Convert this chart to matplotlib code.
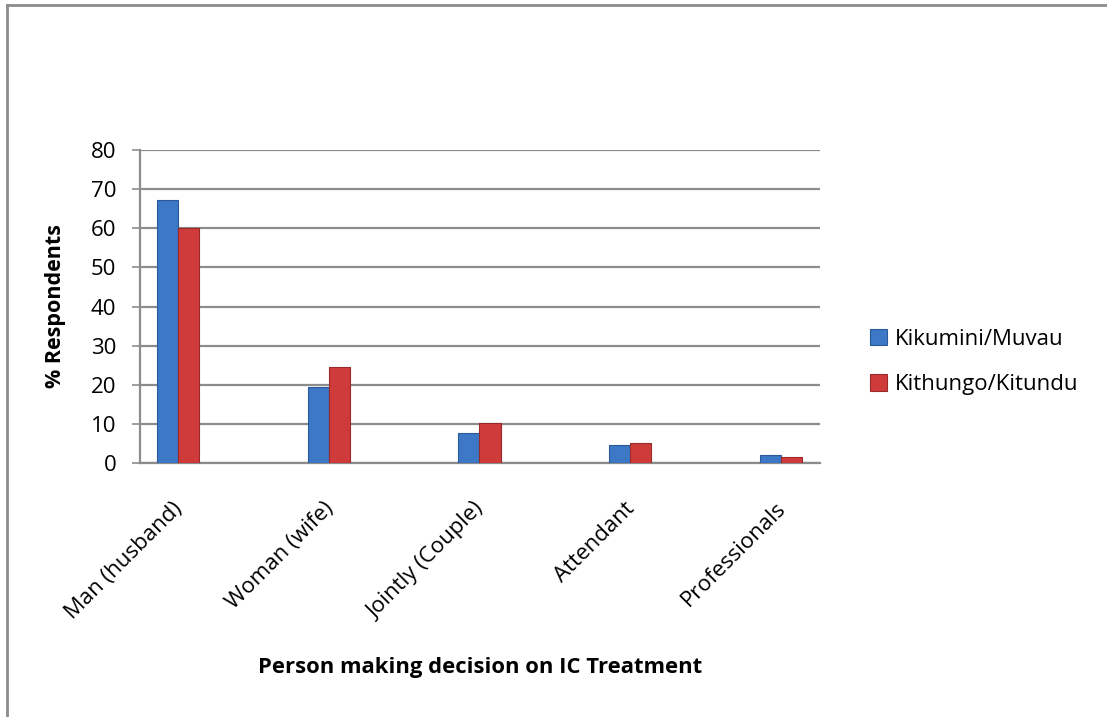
import matplotlib
matplotlib.use("Agg")
import matplotlib.pyplot as plt
from matplotlib.lines import Line2D
import matplotlib.transforms as mtransforms
import numpy as np

categories = ["Man (husband)", "Woman (wife)", "Jointly (Couple)", "Attendant", "Professionals"]
series_names = ["Kikumini/Muvau", "Kithungo/Kitundu"]
kikumini = [67.2, 19.4, 7.7, 4.7, 2.2]
kithungo = [60.2, 24.5, 10.3, 5.3, 1.6]
yticks = [0, 10, 20, 30, 40, 50, 60, 70, 80]

plt.rcParams['font.family'] = ['Open Sans', 'DejaVu Sans']

W, H = 1107, 717
fig = plt.figure(figsize=(W / 100, H / 100), dpi=100)
ax = fig.add_axes([140 / W, 1 - 463.3 / H, (820 - 140) / W, (463.3 - 150) / H])

x = np.arange(len(categories))
bw = 0.14
blue = '#3C78C6'
red = '#CF3B3B'
ax.bar(x - bw / 2, kikumini, bw, color=blue, edgecolor='#2A5A9A', linewidth=0.8,
       label=series_names[0], zorder=3)
ax.bar(x + bw / 2, kithungo, bw, color=red, edgecolor='#9A2A2A', linewidth=0.8,
       label=series_names[1], zorder=3)

ax.set_xlim(-0.252, 4.259)
ax.set_ylim(0, 80)
ax.set_yticks(yticks)
ax.set_yticklabels([str(v) for v in yticks], fontsize=16)
ax.yaxis.grid(True, color='#8C8C8C', linewidth=1.6, zorder=0)
ax.set_axisbelow(True)
ax.tick_params(axis='y', length=6, width=1.2, color='#8C8C8C', pad=11)
ax.tick_params(axis='x', length=0, pad=25)
ax.set_xticks(x)
ax.set_xticklabels(categories, rotation=45, ha='right', va='top',
                   rotation_mode='anchor', fontsize=16)
offset = mtransforms.ScaledTranslation(-6 / 100, 0, fig.dpi_scale_trans)
for lbl in ax.get_xticklabels():
    lbl.set_transform(lbl.get_transform() + offset)
for s in ['top', 'right']:
    ax.spines[s].set_visible(False)
ax.spines['left'].set_color('#8C8C8C')
ax.spines['left'].set_linewidth(1.6)
ax.spines['bottom'].set_color('#8C8C8C')
ax.spines['bottom'].set_linewidth(1.6)

fig.text(55 / W, 1 - 306 / H, '% Respondents', rotation=90, ha='center', va='center',
         fontsize=15.5, fontweight='bold')
fig.text(480 / W, 1 - 668 / H, 'Person making decision on IC Treatment',
         ha='center', va='center', fontsize=15.8, fontweight='bold')

leg = fig.legend(loc='center left', bbox_to_anchor=(850 / W, 1 - 362 / H),
                 frameon=False, fontsize=16, handlelength=0.75, handleheight=0.75,
                 handletextpad=0.35, labelspacing=1.1)

# outer chart border (top and left)
fig.add_artist(Line2D([7 / W, 7 / W], [0, 1 - 5 / H], color='#8C8C8C', linewidth=2,
                      transform=fig.transFigure))
fig.add_artist(Line2D([7 / W, 1], [1 - 5 / H, 1 - 5 / H], color='#8C8C8C', linewidth=2,
                      transform=fig.transFigure))

fig.savefig('out.png', dpi=100)
